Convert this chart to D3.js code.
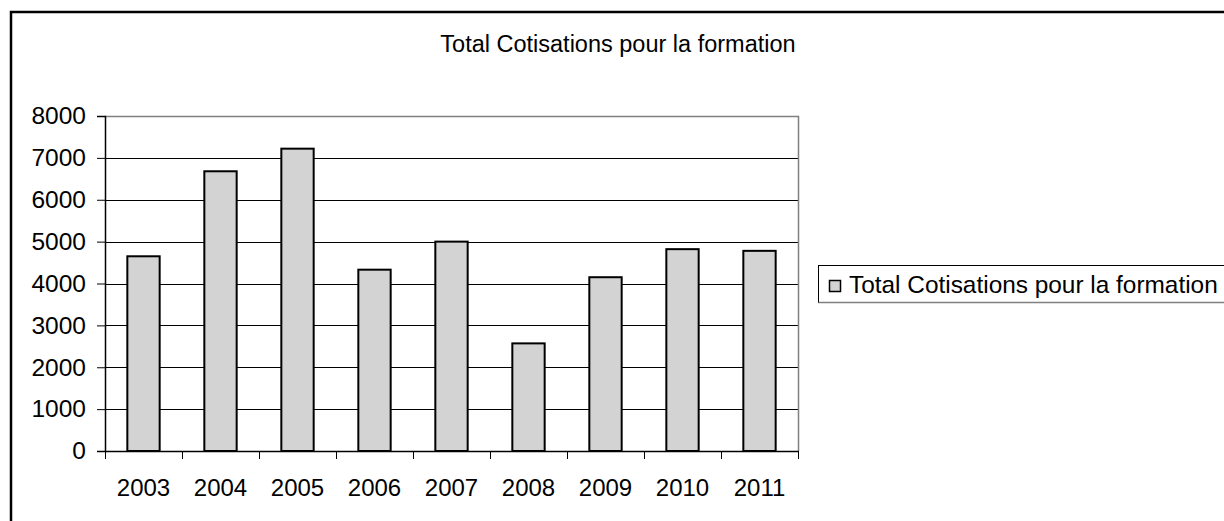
<!DOCTYPE html>
<html>
<head>
<meta charset="utf-8">
<script src="https://cdn.jsdelivr.net/npm/d3@7"></script>
<style>
  html, body { margin: 0; padding: 0; background: #fff; }
  svg { display: block; }
  text { font-family: "Liberation Sans", Arial, sans-serif; fill: #000; }
</style>
</head>
<body>
<svg id="chart" width="1224" height="521"></svg>
<script>
// Annual totals of training contributions
const years = ["2003", "2004", "2005", "2006", "2007", "2008", "2009", "2010", "2011"];
const totals = [4650, 6680, 7220, 4330, 5000, 2570, 4150, 4820, 4780];
const yTicks = [0, 1000, 2000, 3000, 4000, 5000, 6000, 7000, 8000];
const chartTitle = "Total Cotisations pour la formation";
const seriesName = "Total Cotisations pour la formation";

const svg = d3.select("#chart");
const W = 1224, H = 521;
const plot = { left: 105, right: 798, top: 116, bottom: 451 };
const fontSize = 24;

// Outer chart frame (runs past the right and bottom edges)
svg.append("rect")
  .attr("x", 11).attr("y", 12)
  .attr("width", W).attr("height", H)
  .attr("fill", "#fff").attr("stroke", "#000").attr("stroke-width", 2.5);

// Title, centred on the chart frame
svg.append("text")
  .attr("x", 618)
  .attr("y", 52)
  .attr("text-anchor", "middle")
  .style("font-size", "23.5px")
  .text(chartTitle);

// Scales
const x = d3.scaleBand().domain(years).range([plot.left, plot.right]).padding(0);
const y = d3.scaleLinear().domain([0, 8000]).range([plot.bottom, plot.top]);
const barFrac = 0.42;

// Horizontal gridlines
svg.append("g")
  .selectAll("line")
  .data(yTicks.filter(v => v > 0 && v < 8000))
  .join("line")
  .attr("x1", plot.left).attr("x2", plot.right)
  .attr("y1", d => Math.round(y(d)) + 0.5).attr("y2", d => Math.round(y(d)) + 0.5)
  .attr("stroke", "#000").attr("stroke-width", 1);

// Plot area border (top and right in grey)
svg.append("path")
  .attr("d", `M${plot.left},${y(8000) + 0.5}H${plot.right + 0.5}V${plot.bottom}`)
  .attr("fill", "none").attr("stroke", "#808080").attr("stroke-width", 1.5);

// Bars
svg.append("g")
  .selectAll("rect")
  .data(years.map((yr, i) => ({ yr, v: totals[i] })))
  .join("rect")
  .attr("x", d => x(d.yr) + x.bandwidth() * (1 - barFrac) / 2)
  .attr("width", x.bandwidth() * barFrac)
  .attr("y", d => y(d.v))
  .attr("height", d => y(0) - y(d.v))
  .attr("fill", "#d3d3d3")
  .attr("stroke", "#000")
  .attr("stroke-width", 2);

// Y axis
const yAxis = svg.append("g")
  .attr("transform", `translate(${plot.left},0)`)
  .call(d3.axisLeft(y).tickValues(yTicks).tickSize(8).tickPadding(11).tickFormat(d3.format("d")));
yAxis.select(".domain").attr("stroke", "#000").attr("stroke-width", 1.5);
yAxis.selectAll(".tick line").attr("stroke", "#000").attr("stroke-width", 1);
yAxis.selectAll(".tick text")
  .style("font-size", "24.5px")
  .style("font-family", '"Liberation Sans", Arial, sans-serif')
  .attr("fill", "#000");

// X axis: ticks at category boundaries, labels centred under bars
const boundaries = years.map(yr => x(yr)).concat([plot.right]);
const xAxisG = svg.append("g");
xAxisG.append("line")
  .attr("x1", plot.left).attr("x2", plot.right + 1)
  .attr("y1", plot.bottom + 0.5).attr("y2", plot.bottom + 0.5)
  .attr("stroke", "#000").attr("stroke-width", 1.5);
xAxisG.selectAll("line.tick")
  .data(boundaries)
  .join("line")
  .attr("class", "tick")
  .attr("x1", d => Math.round(d) + 0.5).attr("x2", d => Math.round(d) + 0.5)
  .attr("y1", plot.bottom).attr("y2", plot.bottom + 8)
  .attr("stroke", "#000").attr("stroke-width", 1);
xAxisG.selectAll("text")
  .data(years)
  .join("text")
  .attr("x", d => x(d) + x.bandwidth() / 2)
  .attr("y", 496)
  .attr("text-anchor", "middle")
  .style("font-size", fontSize + "px")
  .text(d => d);

// Legend
const legend = svg.append("g");
legend.append("rect")
  .attr("x", 818.5).attr("y", 265.5)
  .attr("width", 420).attr("height", 37)
  .attr("fill", "#fff").attr("stroke", "#000").attr("stroke-width", 1);
legend.append("line")
  .attr("x1", 818.5).attr("x2", W)
  .attr("y1", 302.5).attr("y2", 302.5)
  .attr("stroke", "#808080").attr("stroke-width", 1.5);
legend.append("rect")
  .attr("x", 829.5).attr("y", 280.5)
  .attr("width", 11).attr("height", 11)
  .attr("fill", "#d3d3d3").attr("stroke", "#000").attr("stroke-width", 1.5);
legend.append("text")
  .attr("x", 849).attr("y", 293)
  .style("font-size", "24.4px")
  .text(seriesName);
</script>
</body>
</html>
